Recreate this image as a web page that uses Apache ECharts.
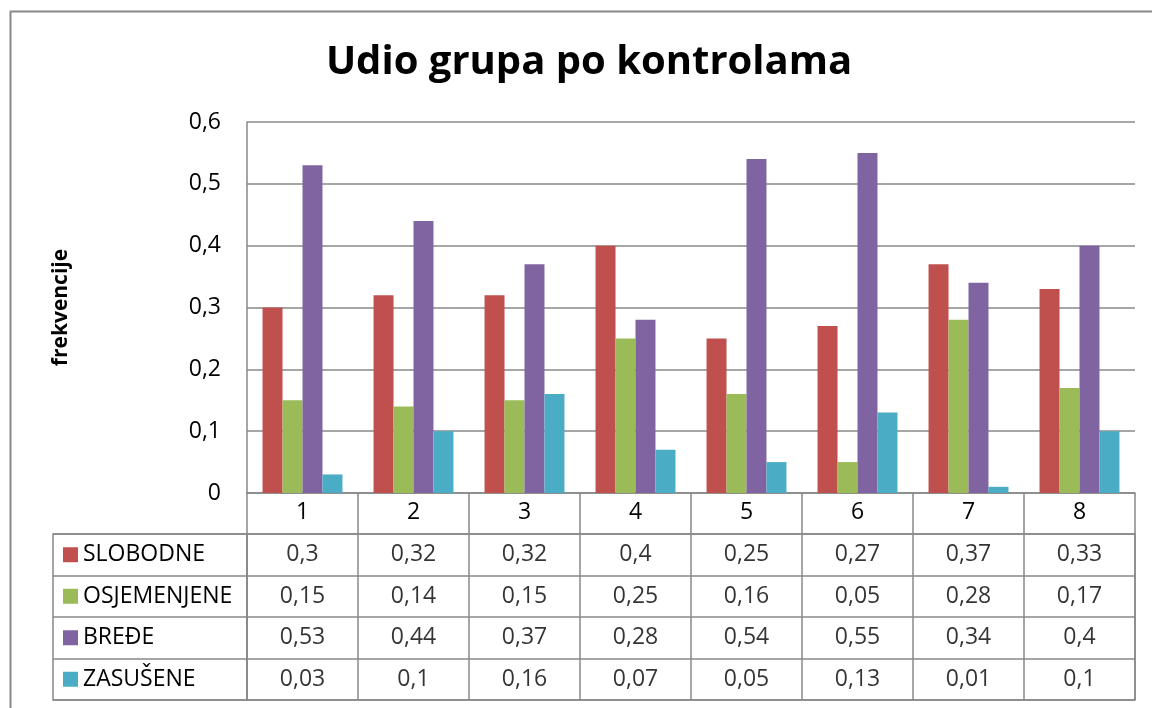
<!DOCTYPE html>
<html>
<head>
<meta charset="utf-8">
<script src="https://cdn.jsdelivr.net/npm/echarts@6/dist/echarts.min.js"></script>
<style>
  html, body { margin: 0; padding: 0; background: #fff; }
  #main { width: 1152px; height: 708px; }
</style>
</head>
<body>
<div id="main"></div>
<script>
// podaci
var kontrole = ['1', '2', '3', '4', '5', '6', '7', '8'];
var grupe = ['SLOBODNE', 'OSJEMENJENE', 'BREĐE', 'ZASUŠENE'];
var slobodne    = [0.3, 0.32, 0.32, 0.4, 0.25, 0.27, 0.37, 0.33];
var osjemenjene = [0.15, 0.14, 0.15, 0.25, 0.16, 0.05, 0.28, 0.17];
var bredje      = [0.53, 0.44, 0.37, 0.28, 0.54, 0.55, 0.34, 0.4];
var zasusene    = [0.03, 0.1, 0.16, 0.07, 0.05, 0.13, 0.01, 0.1];
var boje = ['#C0504D', '#9BBB59', '#8064A2', '#4BACC6'];

var vrijednosti = [slobodne, osjemenjene, bredje, zasusene];
var siva = '#888888';
var font = 'Open Sans';

function zarez(v) {
    return String(v).replace('.', ',');
}

var myChart = echarts.init(document.getElementById('main'));

// stupci
var series = grupe.map(function (g, k) {
    return {
        name: g,
        type: 'bar',
        xAxisIndex: 0,
        yAxisIndex: 0,
        data: vrijednosti[k],
        barGap: '0%',
        barCategoryGap: '28%',
        itemStyle: { color: boje[k] },
        silent: true
    };
});

// vrijednosti u tablici
var celije = [];
vrijednosti.forEach(function (red, k) {
    red.forEach(function (v, i) {
        celije.push([i, k, v]);
    });
});
series.push({
    type: 'scatter',
    xAxisIndex: 1,
    yAxisIndex: 1,
    symbol: 'rect',
    symbolSize: 1,
    itemStyle: { color: 'rgba(0,0,0,0)' },
    data: celije,
    label: {
        show: true,
        position: 'inside',
        fontFamily: font,
        fontSize: 23,
        color: '#000',
        formatter: function (p) { return zarez(p.value[2]); }
    },
    silent: true
});

// legenda u prvom stupcu tablice
var rich = { t: { fontFamily: font, fontSize: 23, color: '#000', padding: [0, 0, 0, 5] } };
boje.forEach(function (c, k) {
    rich['s' + k] = { width: 15, height: 15, backgroundColor: c };
});

var option = {
    animation: false,
    title: {
        text: 'Udio grupa po kontrolama',
        left: 584,
        textAlign: 'center',
        top: 38,
        textStyle: { fontFamily: font, fontSize: 40, fontWeight: 'bold', color: '#000' }
    },
    graphic: [{
        type: 'rect',
        left: 8,
        top: 9,
        shape: { width: 1170, height: 720 },
        style: { fill: 'none', stroke: siva, lineWidth: 2 },
        silent: true
    }],
    grid: [
        { left: 247, right: 17, top: 122, height: 371 },
        { left: 247, right: 17, top: 534, height: 166, show: true, borderColor: siva, borderWidth: 1.5 },
        { left: 53, width: 194, top: 534, height: 166, show: true, borderColor: siva, borderWidth: 1.5 }
    ],
    xAxis: [{
        gridIndex: 0,
        type: 'category',
        data: kontrole,
        axisLine: { lineStyle: { color: siva, width: 1.5 } },
        axisTick: { show: true, length: 41, alignWithLabel: false, lineStyle: { color: siva, width: 1.5 } },
        axisLabel: { margin: 8, fontFamily: font, fontSize: 23, color: '#000' }
    }, {
        gridIndex: 1,
        type: 'category',
        data: kontrole,
        axisLine: { show: false },
        axisTick: { show: false },
        axisLabel: { show: false },
        splitLine: { show: true, interval: 0, lineStyle: { color: siva, width: 1.5 } }
    }, {
        gridIndex: 2,
        type: 'value',
        show: false
    }],
    yAxis: [{
        gridIndex: 0,
        type: 'value',
        min: 0,
        max: 0.6,
        interval: 0.1,
        name: 'frekvencije',
        nameLocation: 'middle',
        nameGap: 175,
        nameTextStyle: { fontFamily: font, fontSize: 21, fontWeight: 'bold', color: '#000' },
        axisLine: { show: true, lineStyle: { color: siva, width: 1.5 } },
        axisTick: { show: false },
        axisLabel: {
            margin: 26,
            fontFamily: font,
            fontSize: 23,
            color: '#000',
            formatter: function (v) { return zarez(Math.round(v * 10) / 10); }
        },
        splitLine: { show: true, lineStyle: { color: siva, width: 1.5 } }
    }, {
        gridIndex: 1,
        type: 'category',
        data: grupe,
        inverse: true,
        axisLine: { show: false },
        axisTick: { show: false },
        axisLabel: { show: false },
        splitLine: { show: true, interval: 0, lineStyle: { color: siva, width: 1.5 } }
    }, {
        gridIndex: 2,
        type: 'category',
        data: grupe,
        inverse: true,
        axisLine: { show: false },
        axisTick: { show: false },
        axisLabel: {
            inside: true,
            margin: 10,
            align: 'left',
            formatter: function (v, i) { return '{s' + i + '|}{t|' + v + '}'; },
            rich: rich
        },
        splitLine: { show: true, interval: 0, lineStyle: { color: siva, width: 1.5 } }
    }],
    series: series
};

myChart.setOption(option);
</script>
</body>
</html>
